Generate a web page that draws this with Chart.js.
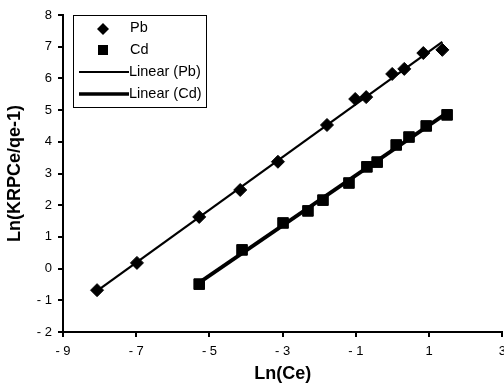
<!DOCTYPE html>
<html>
<head>
<meta charset="utf-8">
<script src="https://cdn.jsdelivr.net/npm/chart.js@4.4.0/dist/chart.umd.min.js"></script>
<style>
  body { margin: 0; background: #fff; overflow: hidden; }
  #wrap { width: 504px; height: 389px; overflow: hidden; }
</style>
</head>
<body>
<div id="wrap"><canvas id="chart" width="513" height="389"></canvas></div>
<script>
// values
const pbX = [-8.07, -6.98, -5.28, -4.16, -3.13, -1.79, -1.02, -0.72, -0.01, 0.32, 0.84, 1.36];
const pbY = [-0.68, 0.18, 1.63, 2.48, 3.37, 4.53, 5.35, 5.41, 6.14, 6.30, 6.80, 6.90];
const cdX = [-5.28, -4.11, -2.99, -2.31, -1.90, -1.19, -0.70, -0.42, 0.10, 0.45, 0.92, 1.49];
const cdY = [-0.49, 0.59, 1.44, 1.82, 2.16, 2.70, 3.21, 3.36, 3.90, 4.15, 4.50, 4.85];
const seriesNames = ['Pb', 'Cd', 'Linear (Pb)', 'Linear (Cd)'];

const xTicks = [-9, -7, -5, -3, -1, 1, 3];
const yTicks = [-2, -1, 0, 1, 2, 3, 4, 5, 6, 7, 8];

// least squares trendline, like Excel's "Linear" trendline
function trend(xs, ys) {
    const n = xs.length;
    let sx = 0, sy = 0, sxx = 0, sxy = 0;
    for (let i = 0; i < n; i++) {
        sx += xs[i]; sy += ys[i]; sxx += xs[i] * xs[i]; sxy += xs[i] * ys[i];
    }
    const m = (n * sxy - sx * sy) / (n * sxx - sx * sx);
    const b = (sy - m * sx) / n;
    const x0 = Math.min(...xs), x1 = Math.max(...xs);
    return [{ x: x0, y: m * x0 + b }, { x: x1, y: m * x1 + b }];
}

const pts = (xs, ys) => xs.map((x, i) => ({ x: x, y: ys[i] }));
const fmt = v => v < 0 ? '- ' + Math.abs(v) : String(v);

// legend drawn inside the plot, Excel style
const boxLegend = {
    id: 'boxLegend',
    afterDraw(chart) {
        const ctx = chart.ctx;
        ctx.save();
        ctx.fillStyle = '#fff';
        ctx.fillRect(73, 15, 133, 92);
        ctx.strokeStyle = '#000';
        ctx.lineWidth = 1;
        ctx.strokeRect(73.5, 15.5, 133, 92);

        ctx.fillStyle = '#000';
        // diamond
        ctx.beginPath();
        ctx.moveTo(103, 23); ctx.lineTo(109, 29); ctx.lineTo(103, 35); ctx.lineTo(97, 29);
        ctx.closePath(); ctx.fill();
        // square
        ctx.fillRect(98, 45, 10, 10);
        // lines
        ctx.strokeStyle = '#000';
        ctx.lineWidth = 2;
        ctx.beginPath(); ctx.moveTo(79, 72); ctx.lineTo(129, 72); ctx.stroke();
        ctx.lineWidth = 3.5;
        ctx.beginPath(); ctx.moveTo(79, 94); ctx.lineTo(129, 94); ctx.stroke();

        ctx.font = '14.5px "Liberation Sans", Arial, sans-serif';
        ctx.textBaseline = 'middle';
        ctx.textAlign = 'left';
        ctx.fillText(seriesNames[0], 130, 28);
        ctx.fillText(seriesNames[1], 130, 50);
        ctx.fillText(seriesNames[2], 129, 72);
        ctx.fillText(seriesNames[3], 129, 94);
        ctx.restore();
    }
};

const ctx = document.getElementById('chart').getContext('2d');
const chart = new Chart(ctx, {
    type: 'scatter',
    data: {
        datasets: [
            {
                label: seriesNames[2],
                type: 'line',
                data: trend(pbX, pbY),
                borderColor: '#000',
                borderWidth: 2.2,
                pointRadius: 0,
                fill: false
            },
            {
                label: seriesNames[3],
                type: 'line',
                data: trend(cdX, cdY),
                borderColor: '#000',
                borderWidth: 3.8,
                pointRadius: 0,
                fill: false
            },
            {
                label: seriesNames[0],
                data: pts(pbX, pbY),
                pointStyle: 'rectRot',
                pointRadius: 6.5,
                backgroundColor: '#000',
                borderColor: '#000',
                borderWidth: 1
            },
            {
                label: seriesNames[1],
                data: pts(cdX, cdY),
                pointStyle: 'rect',
                pointRadius: 7.5,
                backgroundColor: '#000',
                borderColor: '#000',
                borderWidth: 1
            }
        ]
    },
    options: {
        responsive: false,
        animation: false,
        layout: { padding: { top: 15, right: 2, left: 0, bottom: 0 } },
        plugins: {
            legend: { display: false },
            tooltip: { enabled: false }
        },
        scales: {
            x: {
                type: 'linear',
                min: -9,
                max: 3,
                afterBuildTicks: axis => { axis.ticks = xTicks.map(v => ({ value: v })); },
                afterFit: axis => { axis.height = 57; },
                ticks: {
                    callback: fmt,
                    color: '#000',
                    padding: 7,
                    maxRotation: 0,
                    font: { family: '"Liberation Sans", Arial, sans-serif', size: 13 }
                },
                grid: { drawOnChartArea: false, color: '#000', lineWidth: 2, tickLength: 5 },
                border: { color: '#000', width: 2 },
                title: {
                    display: true,
                    text: 'Ln(Ce)',
                    color: '#000',
                    padding: 4,
                    font: { family: '"Liberation Sans", Arial, sans-serif', size: 18, weight: 'bold' }
                }
            },
            y: {
                min: -2,
                max: 8,
                afterBuildTicks: axis => { axis.ticks = yTicks.map(v => ({ value: v })); },
                afterFit: axis => { axis.width = 63; },
                ticks: {
                    callback: fmt,
                    color: '#000',
                    padding: 6,
                    font: { family: '"Liberation Sans", Arial, sans-serif', size: 13 }
                },
                grid: { drawOnChartArea: false, color: '#000', lineWidth: 2, tickLength: 5 },
                border: { color: '#000', width: 2 },
                title: {
                    display: true,
                    text: 'Ln(KRPCe/qe-1)',
                    color: '#000',
                    padding: 4,
                    font: { family: '"Liberation Sans", Arial, sans-serif', size: 18, weight: 'bold' }
                }
            }
        }
    },
    plugins: [boxLegend]
});
</script>
</body>
</html>
